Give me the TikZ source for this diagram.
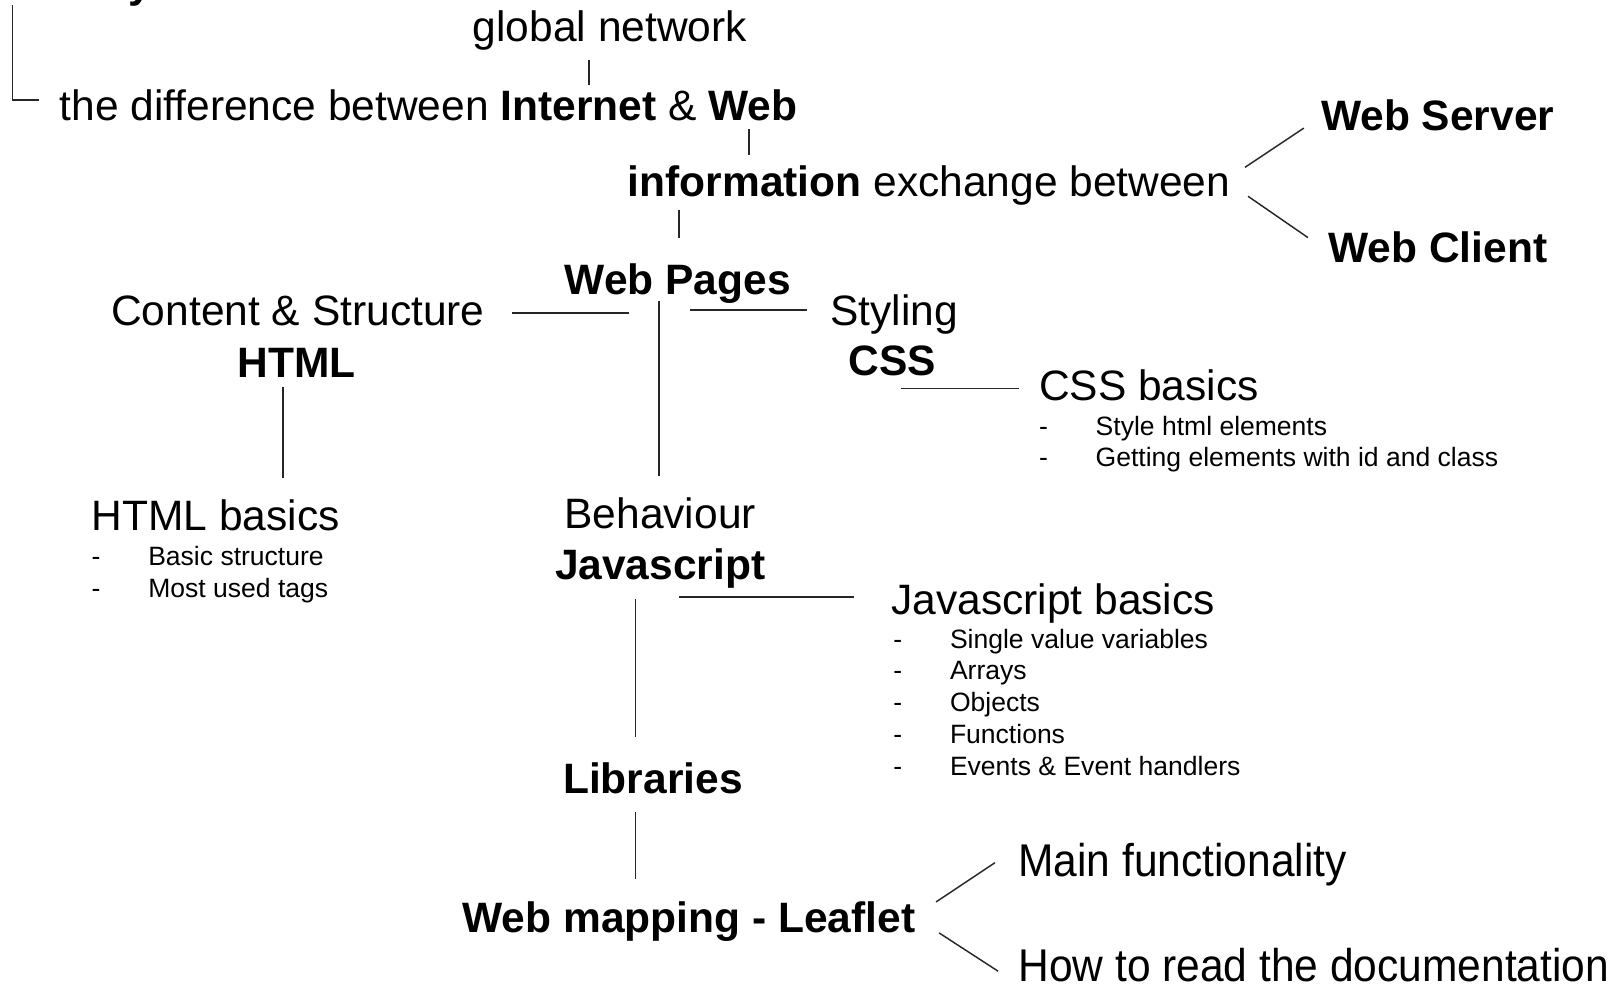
\documentclass[tikz,border=0pt]{standalone}
\usepackage{fontspec}
\setmainfont{Liberation Sans}
\usetikzlibrary{positioning}

\newlength{\dashw}
\setlength{\dashw}{15.6pt}
\newcommand{\itm}[1]{\makebox[\dashw][l]{-}#1}

\begin{document}
\begin{tikzpicture}[
        x=0.01cm, y=-0.01cm,
        topic/.style={font=\fontsize{11.7}{14}\selectfont, inner sep=0pt, anchor=base west},
        keyw/.style={font=\fontsize{11.7}{14}\selectfont\bfseries, inner sep=0pt, anchor=base west},
        tall/.style={topic, yscale=1.08, transform shape},
        items/.style={font=\fontsize{7.3}{8.8}\selectfont, inner sep=0pt, align=left, anchor=base west},
        link/.style={draw=black!85, line width=0.4pt}
    ]
    \useasboundingbox (0,0) rectangle (1568,952);

    % intro
    \node[keyw] (title) at (124,-2) {y};
    \node[topic] (glob) at (457,40) {global network};
    \node[topic] (diff) at (57,117)
        {the difference between \textbf{Internet} \& \textbf{Web}};
    \node[topic] (info) at (607,190) {\textbf{information} exchange between};
    \node[keyw] (srv) at (1278,126) {Web Server};
    \node[keyw] (cli) at (1285,254) {Web Client};

    % web pages
    \node[keyw] (pages) at (546,285) {Web Pages};
    \node[topic] (cont) at (107,315) {Content \& Structure};
    \node[keyw, anchor=base] (html) at (287,365) {HTML};
    \node[topic] (styl) at (803,315) {Styling};
    \node[keyw, anchor=base] (css) at (864,363) {CSS};
    \node[topic] (cssb) at (1005,388) {CSS basics};
    % lists sit on the baseline of their last line
    \node[items] (cssl) at (1005,452)
        {\itm{Style html elements}\\\itm{Getting elements with id and class}};
    \node[topic] (htmb) at (88,513) {HTML basics};
    \node[items] (htmll) at (88,578)
        {\itm{Basic structure}\\\itm{Most used tags}};

    % javascript
    \node[topic, anchor=base] (beh) at (639,512) {Behaviour};
    \node[keyw, anchor=base] (js) at (639,561) {Javascript};
    \node[topic] (jsb) at (862,595) {Javascript basics};
    \node[items] (jsl) at (864,751)
        {\itm{Single value variables}\\\itm{Arrays}\\\itm{Objects}\\
         \itm{Functions}\\\itm{Events \& Event handlers}};
    \node[keyw, anchor=base] (lib) at (632,768) {Libraries};
    \node[keyw] (leaf) at (447,903) {Web mapping - Leaflet};
    \node[tall] (mainf) at (985,848) {Main functionality};
    \node[tall] (howto) at (985,950) {How to read the documentation};

    % connectors
    \draw[link] ([shift={(-112,7)}]title.base west) |- ([shift={(-19,-20)}]diff.base west);
    \draw[link] ([shift={(113,18)}]glob.base west) -- ([shift={(513,-35)}]diff.base west);
    \draw[link] ([shift={(668,8)}]diff.base west) -- ([shift={(118,-40)}]info.base west);
    \draw[link] ([shift={(598,-28)}]info.base west) -- ([shift={(-16,-2)}]srv.base west);
    \draw[link] ([shift={(601,0)}]info.base west) -- ([shift={(-19,-24)}]cli.base west);
    \draw[link] ([shift={(50,13)}]info.base west) -- ([shift={(111,-55)}]pages.base west);
    \draw[link] ([shift={(389,-12)}]cont.base west) -- ([shift={(63,18)}]pages.base west);
    \draw[link] ([shift={(122,15)}]pages.base west) -- ([shift={(-22,-15)}]styl.base west);
    \draw[link] ([shift={(92,6)}]pages.base west) -- ([shift={(-1,-51)}]beh.base);
    \draw[link] ([shift={(8,13)}]css.base) -- ([shift={(-19,-12)}]cssb.base west);
    \draw[link] ([shift={(-13,10)}]html.base) -- ([shift={(186,-50)}]htmb.base west);
    \draw[link] ([shift={(18,17)}]js.base) -- ([shift={(-35,-17)}]jsb.base west);
    \draw[link] ([shift={(-24,19)}]js.base) -- ([shift={(-17,-55)}]lib.base);
    \draw[link] ([shift={(-17,18)}]lib.base) -- ([shift={(168,-52)}]leaf.base west);
    \draw[link] ([shift={(459,-30)}]leaf.base west) -- ([shift={(-22,-13)}]mainf.base west);
    \draw[link] ([shift={(462,0)}]leaf.base west) -- ([shift={(-19,-10)}]howto.base west);
\end{tikzpicture}
\end{document}
